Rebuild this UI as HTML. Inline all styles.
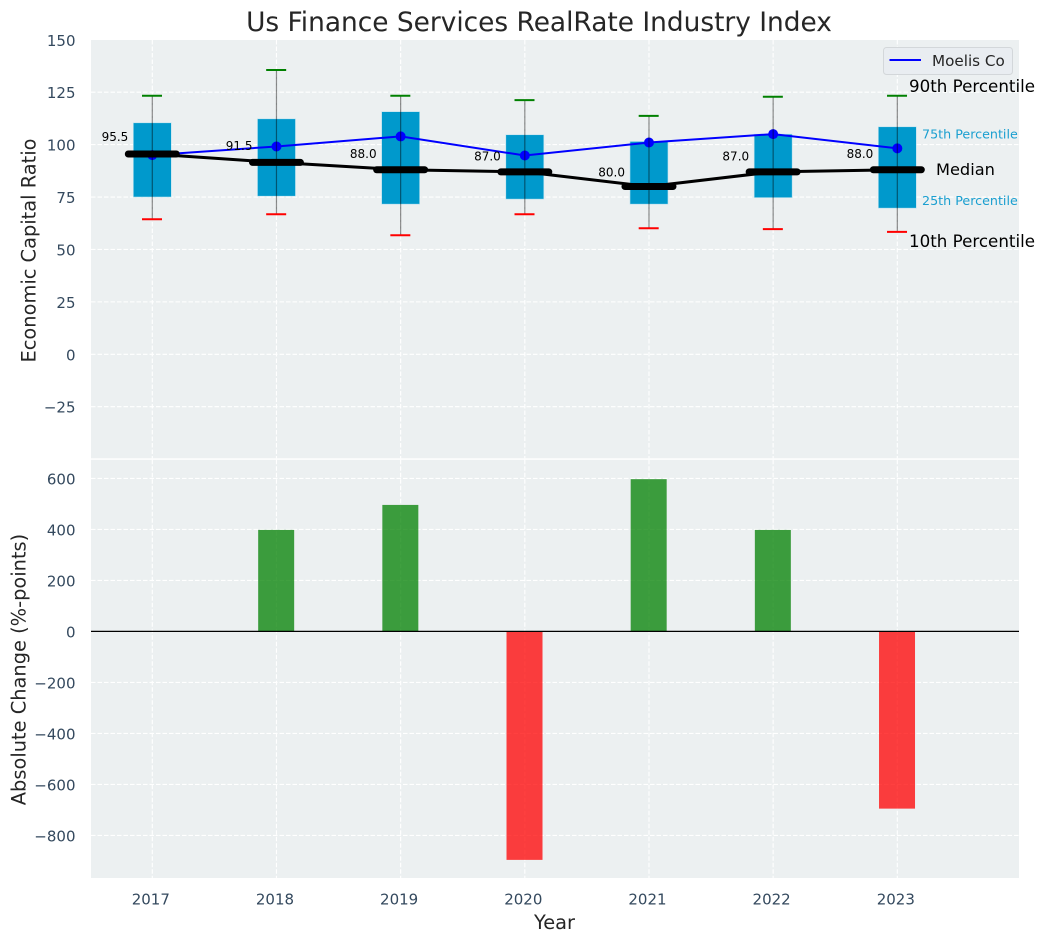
<!DOCTYPE html>
<html>
<head>
<meta charset="utf-8">
<title>Us Finance Services RealRate Industry Index</title>
<style>
html,body{margin:0;padding:0;background:#fff;width:1044px;height:942px;overflow:hidden}
svg{display:block}
text{font-family:"DejaVu Sans","Liberation Sans",sans-serif}
</style>
</head>
<body>
<svg id="chart" xmlns="http://www.w3.org/2000/svg" width="1044" height="942" viewBox="0 0 1044 942">
  <rect width="1044" height="942" fill="#ffffff"/>
  <rect x="91" y="40" width="928" height="418.300" fill="#ecf0f1"/>
  <rect x="91" y="459.800" width="928" height="418.200" fill="#ecf0f1"/>
  <g id="grid"></g>
  <g id="bars"></g>
  <g id="boxes"></g>
  <g id="company"></g>
  <g id="whiskers"></g>
  <g id="medians"></g>
  <g id="ticks"></g>
  <line x1="91" x2="1019" y1="631.4" y2="631.4" stroke="#000" stroke-width="1.3"/>
  <text x="539" y="31" text-anchor="middle" font-size="26.4" fill="#262626">Us Finance Services RealRate Industry Index</text>
  <text transform="translate(35.5,250.500) rotate(-90)" text-anchor="middle" font-size="19.4" fill="#262626">Economic Capital Ratio</text>
  <text transform="translate(25.5,669.5) rotate(-90)" text-anchor="middle" font-size="19.4" fill="#262626">Absolute Change (%-points)</text>
  <text x="554.5" y="929" text-anchor="middle" font-size="19.4" fill="#262626">Year</text>
  <g>
    <rect x="883.5" y="47.5" width="129" height="27" rx="3" fill="#e9edf1" stroke="#d3d7da" stroke-width="1"/>
    <line x1="889.5" x2="921" y1="60" y2="60" stroke="#0000ff" stroke-width="2"/>
    <text x="932" y="66" font-size="15.2" fill="#262626">Moelis Co</text>
  </g>
  <g>
    <text x="909" y="92" font-size="16.7" fill="#000">90th Percentile</text>
    <text x="922" y="138.500" font-size="12.7" fill="#1a9fd0">75th Percentile</text>
    <text x="936" y="175" font-size="16.2" fill="#000">Median</text>
    <text x="922" y="205" font-size="12.7" fill="#1a9fd0">25th Percentile</text>
    <text x="909" y="247" font-size="16.7" fill="#000">10th Percentile</text>
  </g>
</svg>
<script>
const years = [2017, 2018, 2019, 2020, 2021, 2022, 2023];
const p90 = [123.3, 135.6, 123.3, 121.2, 113.7, 122.8, 123.3];
const p75 = [110.4, 112.3, 115.7, 104.7, 101.5, 105, 108.5];
const medians = [95.5, 91.5, 88, 87, 80, 87, 88];
const p25 = [75, 75.4, 71.6, 74, 71.6, 74.7, 69.7];
const p10 = [64.4, 66.8, 56.8, 66.8, 60.1, 59.7, 58.4];
const moelis = [95, 99.1, 103.9, 94.8, 101, 105, 98.2];
const changes = [0, 398, 496, -896, 597, 398, -695];
const topTicks = [150, 125, 100, 75, 50, 25, 0, -25];
const bottomTicks = [600, 400, 200, 0, -200, -400, -600, -800];

const NS = 'http://www.w3.org/2000/svg';
const xScale = v => 152.3 + (v - 2017) * 124.17;
const yTop = v => 354.3 - v * 2.097;
const yBottom = v => 631.4 - v * 0.255;
function make(tag, parent, props) {
  const el = document.createElementNS(NS, tag);
  for (const k in props) el.setAttribute(k, props[k]);
  document.getElementById(parent).appendChild(el);
  return el;
}
const gridStyle = {stroke: '#ffffff', 'stroke-width': 1.1, 'stroke-dasharray': '4.5 2'};
function gridLine(x1, x2, y1, y2) {
  const el = make('line', 'grid', Object.assign({x1: x1, x2: x2, y1: y1, y2: y2}, gridStyle));
  
  
}
function tickLabel(x, y, anchor, str) {
  const el = make('text', 'ticks', {x: x, y: y, 'text-anchor': anchor, 'font-size': 15, fill: '#34495e'});
  el.textContent = String(str).replace('-', '\u2212');
  
  
}
years.forEach(yr => {
  gridLine(xScale(yr), xScale(yr), 40, 458.3);
  gridLine(xScale(yr), xScale(yr), 459.8, 878);
  tickLabel(xScale(yr) - 1.5, 904.5, 'middle', yr);
});
topTicks.forEach(t => {
  if (t !== 150) gridLine(91, 1019, yTop(t), yTop(t));
  tickLabel(75.5, yTop(t) + 6, 'end', t);
});
bottomTicks.forEach(t => {
  gridLine(91, 1019, yBottom(t), yBottom(t));
  tickLabel(75.5, yBottom(t) + 6, 'end', t);
});

// change bars
years.forEach((yr, i) => {
  if (changes[i] === 0) return;
  const y0 = yBottom(0), y1 = yBottom(changes[i]);
  const bar = make('rect', 'bars', {
    x: xScale(yr) - 18.3, width: 36,
    y: Math.min(y0, y1), height: Math.abs(y1 - y0),
    fill: changes[i] > 0 ? '#008000' : '#ff0000', 'fill-opacity': 0.75
  });
  
  
});

// boxes and whiskers
years.forEach((yr, i) => {
  const cx = xScale(yr);
  const box = make('rect', 'boxes', {
    x: cx - 19, width: 38, y: yTop(p75[i]), height: yTop(p25[i]) - yTop(p75[i]),
    fill: '#0099cc', stroke: '#bfe3ef', 'stroke-width': 0.6
  });
  
  
  const stem = make('line', 'whiskers', {
    x1: cx, x2: cx, y1: yTop(p90[i]), y2: yTop(p10[i]), stroke: '#000', 'stroke-opacity': 0.45, 'stroke-width': 1.2
  });
  
  
  const capHigh = make('line', 'whiskers', {
    x1: cx - 10.3, x2: cx + 9.7, y1: yTop(p90[i]), y2: yTop(p90[i]), stroke: '#008000', 'stroke-width': 2
  });
  
  
  const capLow = make('line', 'whiskers', {
    x1: cx - 10.3, x2: cx + 9.7, y1: yTop(p10[i]), y2: yTop(p10[i]), stroke: '#ff0000', 'stroke-width': 2
  });
  
  
});

// company series
const companyLine = make('polyline', 'company', {
  points: years.map((yr, i) => xScale(yr) + ',' + yTop(moelis[i])).join(' '),
  fill: 'none', stroke: '#0000ff', 'stroke-width': 2
});


years.forEach((yr, i) => {
  const dot = make('circle', 'company', {cx: xScale(yr), cy: yTop(moelis[i]), r: 5, fill: '#0000ff'});
  
  
});

// median series
const medianLine = make('polyline', 'medians', {
  points: years.map((yr, i) => xScale(yr) + ',' + yTop(medians[i])).join(' '),
  fill: 'none', stroke: '#000', 'stroke-width': 3
});


years.forEach((yr, i) => {
  const cx = xScale(yr), cy = yTop(medians[i]);
  const seg = make('line', 'medians', {
    x1: cx - 24, x2: cx + 24, y1: cy, y2: cy, stroke: '#000', 'stroke-width': 7, 'stroke-linecap': 'round'
  });
  
  
  const lab = make('text', 'medians', {
    x: cx - 24, y: yTop(medians[i] * 1.0875) + 4.4, 'text-anchor': 'end', 'font-size': 12, fill: '#000'
  });
  lab.textContent = medians[i].toFixed(1);
  
  
});
</script>
</body>
</html>
